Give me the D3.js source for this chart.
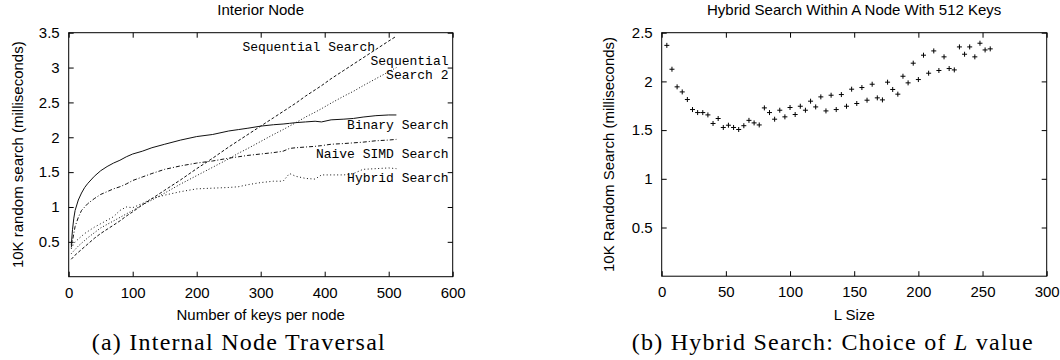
<!DOCTYPE html>
<html>
<head>
<meta charset="utf-8">
<script src="https://cdn.jsdelivr.net/npm/d3@7/dist/d3.min.js"></script>
<style>
  body { margin: 0; background: #fff; }
  svg text { fill: #000; }
  .sans { font-family: "Liberation Sans", Arial, sans-serif; font-size: 15px; }
  .mono { font-family: "Liberation Mono", "Courier New", monospace; font-size: 13px; }
  .cap { font-family: "Liberation Serif", "Times New Roman", serif; font-size: 24px; }
</style>
</head>
<body>
<div id="chart"></div>
<script>
// (a) keys per node and the five traversal series (ms)
const keys = [4, 6, 8, 10, 15, 20, 25, 30, 40, 50, 60, 70, 80, 90, 100, 115, 130, 150, 175, 200,
  225, 250, 265, 280, 300, 320, 335, 345, 355, 370, 385, 395, 410, 430, 445, 460, 480, 500, 512];
const binarySearch = [0.45, 0.68, 0.84, 0.95, 1.1, 1.2, 1.28, 1.34, 1.44, 1.52, 1.58, 1.63, 1.67, 1.72, 1.76, 1.8, 1.85, 1.9, 1.96, 2.01,
  2.04, 2.09, 2.11, 2.13, 2.16, 2.18, 2.19, 2.2, 2.21, 2.22, 2.23, 2.22, 2.25, 2.26, 2.27, 2.29, 2.31, 2.32, 2.32];
const naiveSimd = [0.42, 0.52, 0.62, 0.72, 0.85, 0.95, 1.0, 1.05, 1.12, 1.18, 1.22, 1.26, 1.29, 1.33, 1.38, 1.43, 1.48, 1.54, 1.59, 1.63,
  1.66, 1.7, 1.72, 1.74, 1.76, 1.78, 1.8, 1.84, 1.85, 1.86, 1.87, 1.88, 1.9, 1.91, 1.92, 1.93, 1.95, 1.96, 1.97];
const sequential = [0.25, 0.27, 0.29, 0.31, 0.35, 0.39, 0.43, 0.47, 0.55, 0.62, 0.68, 0.74, 0.8, 0.87, 0.93, 1.03, 1.12, 1.24, 1.39, 1.55,
  1.7, 1.86, 1.95, 2.04, 2.16, 2.28, 2.37, 2.43, 2.49, 2.59, 2.68, 2.74, 2.84, 2.96, 3.05, 3.14, 3.26, 3.38, 3.45];
const sequential2 = [0.33, 0.35, 0.37, 0.39, 0.44, 0.48, 0.52, 0.56, 0.63, 0.7, 0.75, 0.8, 0.85, 0.9, 0.95, 1.03, 1.1, 1.2, 1.33, 1.45,
  1.57, 1.69, 1.77, 1.84, 1.94, 2.04, 2.11, 2.16, 2.21, 2.29, 2.36, 2.41, 2.49, 2.59, 2.66, 2.74, 2.84, 2.94, 3.0];
const hybrid = [0.4, 0.44, 0.47, 0.5, 0.54, 0.58, 0.62, 0.65, 0.71, 0.76, 0.81, 0.86, 0.95, 1.0, 0.99, 1.05, 1.12, 1.17, 1.22, 1.26,
  1.27, 1.28, 1.29, 1.32, 1.35, 1.37, 1.37, 1.48, 1.44, 1.41, 1.4, 1.46, 1.46, 1.46, 1.48, 1.54, 1.55, 1.56, 1.55];

// (b) L size vs time
const lSize = [4, 8, 12, 16, 20, 24, 28, 32, 36, 40, 44, 48, 52, 56, 60, 64, 68, 72, 76, 80, 84, 88, 92, 96, 100, 104, 108, 112,
  116, 120, 124, 128, 132, 136, 140, 144, 148, 152, 156, 160, 164, 168, 172, 176, 180, 184, 188, 192, 196, 200, 204, 208,
  212, 216, 220, 224, 228, 232, 236, 240, 244, 248, 252, 256];
const lTime = [2.37, 2.125, 1.944, 1.892, 1.814, 1.711, 1.68, 1.68, 1.656, 1.568, 1.619, 1.527, 1.55, 1.527, 1.506, 1.545,
  1.6, 1.574, 1.553, 1.728, 1.68, 1.612, 1.704, 1.636, 1.732, 1.66, 1.745, 1.704, 1.797, 1.738, 1.841, 1.697,
  1.858, 1.711, 1.865, 1.745, 1.92, 1.773, 1.937, 1.807, 1.971, 1.831, 1.81, 1.992, 1.917, 1.869, 2.053, 1.985,
  2.187, 2.019, 2.269, 2.084, 2.313, 2.112, 2.252, 2.132, 2.118, 2.354, 2.279, 2.354, 2.252, 2.392, 2.323, 2.334];

const ticksA_x = [0, 100, 200, 300, 400, 500, 600];
const ticksA_y = [0.5, 1, 1.5, 2, 2.5, 3, 3.5];
const ticksB_x = [0, 50, 100, 150, 200, 250, 300];
const ticksB_y = [0.5, 1, 1.5, 2, 2.5];

const seriesA = [
  { name: "Binary Search", values: binarySearch, dash: null },
  { name: "Naive SIMD Search", values: naiveSimd, dash: "4,2,1,2" },
  { name: "Sequential Search", values: sequential, dash: "3,2" },
  { name: "Sequential Search 2", values: sequential2, dash: "1,2" },
  { name: "Hybrid Search", values: hybrid, dash: "1,2.5" }
];

const W = 1060, H = 360;
const svg = d3.select("#chart").append("svg").attr("width", W).attr("height", H);

// shared frame: border, inward ticks on all four sides, labels bottom/left
function frame(x, y, xt, yt, title, xlabel, ylabel, ylx) {
  const [x0, x1] = x.range(), [y1, y0] = y.range();
  const g = svg.append("g").attr("class", "sans");
  g.append("g").attr("transform", `translate(0,${y1})`)
    .call(d3.axisBottom(x).tickValues(xt).tickSize(-5).tickPadding(10.5));
  g.append("g").attr("transform", `translate(0,${y0})`)
    .call(d3.axisTop(x).tickValues(xt).tickSize(-5).tickFormat(""));
  g.append("g").attr("transform", `translate(${x0},0)`)
    .call(d3.axisLeft(y).tickValues(yt).tickSize(-5).tickPadding(9).tickFormat(d3.format("")));
  g.append("g").attr("transform", `translate(${x1},0)`)
    .call(d3.axisRight(y).tickValues(yt).tickSize(-5).tickFormat(""));
  g.selectAll(".domain").remove();
  g.selectAll(".tick line").attr("stroke", "#000");
  g.selectAll(".tick text").attr("font-size", 15).attr("font-family", "Liberation Sans, Arial, sans-serif").attr("fill", "#000");
  g.append("rect").attr("x", x0).attr("y", y0).attr("width", x1 - x0).attr("height", y1 - y0)
    .attr("fill", "none").attr("stroke", "#000").attr("stroke-width", 1);
  g.append("text").attr("x", (x0 + x1) / 2).attr("y", 15).attr("text-anchor", "middle").text(title);
  g.append("text").attr("x", (x0 + x1) / 2).attr("y", 320).attr("text-anchor", "middle").text(xlabel);
  g.append("text").attr("transform", `translate(${ylx},${(y0 + y1) / 2}) rotate(-90)`)
    .attr("text-anchor", "middle").attr("dy", "0.35em").text(ylabel);
}

// ---- (a) Interior Node
const xA = d3.scaleLinear().domain([0, 600]).range([68.7, 452.7]);
const yA = d3.scaleLinear().domain([0, 3.5]).range([276.7, 32.7]);
frame(xA, yA, ticksA_x, ticksA_y, "Interior Node", "Number of keys per node", "10K random search (milliseconds)", 17.5);

const line = d3.line().x(d => xA(d[0])).y(d => yA(d[1]));
svg.append("g").selectAll("path").data(seriesA).join("path")
  .attr("d", s => line(keys.map((k, i) => [k, s.values[i]])))
  .attr("fill", "none").attr("stroke", "#111").attr("stroke-width", 1)
  .attr("stroke-dasharray", s => s.dash);

const labelsA = [
  { text: "Sequential Search", x: 375, y: 50.5 },
  { text: "Sequential", x: 448.5, y: 65 },
  { text: "Search 2", x: 448.5, y: 79 },
  { text: "Binary Search", x: 448.5, y: 129 },
  { text: "Naive SIMD Search", x: 448.5, y: 158 },
  { text: "Hybrid Search", x: 448.5, y: 182 }
];
svg.append("g").attr("class", "mono").selectAll("text").data(labelsA).join("text")
  .attr("x", d => d.x).attr("y", d => d.y).attr("text-anchor", "end").text(d => d.text);

// ---- (b) Hybrid search, choice of L
const xB = d3.scaleLinear().domain([0, 300]).range([661.7, 1046.7]);
const yB = d3.scaleLinear().domain([0, 2.5]).range([276.2, 32.7]);
frame(xB, yB, ticksB_x, ticksB_y, "Hybrid Search Within A Node With 512 Keys", "L Size", "10K Random Search (milliseconds)", 609);

svg.append("g").selectAll("path").data(lSize).join("path")
  .attr("transform", (d, i) => `translate(${xB(d)},${yB(lTime[i])})`)
  .attr("d", "M-2.5,0H2.5M0,-2.5V2.5")
  .attr("stroke", "#000").attr("stroke-width", 1);

// captions
svg.append("text").attr("class", "cap").attr("x", 91.7).attr("y", 349.5)
  .attr("textLength", 293).attr("lengthAdjust", "spacing").text("(a) Internal Node Traversal");
const capB = svg.append("text").attr("class", "cap").attr("x", 631.7).attr("y", 349.5)
  .attr("textLength", 401).attr("lengthAdjust", "spacing");
capB.append("tspan").text("(b) Hybrid Search: Choice of ");
capB.append("tspan").attr("font-style", "italic").text("L");
capB.append("tspan").text(" value");
</script>
</body>
</html>
